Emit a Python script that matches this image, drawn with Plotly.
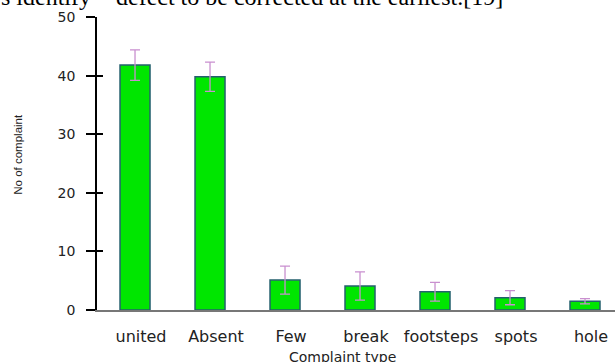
import plotly.graph_objects as go

# Complaint counts by type, with their error margins
complaint_types = ["united", "Absent", "Few", "break", "footsteps", "spots", "hole"]
mean_counts = [41.8, 39.8, 5.1, 4.1, 3.1, 2.1, 1.5]
error_margin = [2.6, 2.5, 2.4, 2.4, 1.6, 1.2, 0.45]
y_ticks = [0, 10, 20, 30, 40, 50]

W, H = 615, 362
M_L, M_R, M_T, M_B = 97, 0, 17, 52
plot_w = W - M_L - M_R

SANS = "DejaVu Sans, Verdana, sans-serif"
SERIF = "Liberation Serif, Times New Roman, serif"

fig = go.Figure()

fig.add_trace(go.Bar(
    x=complaint_types,
    y=mean_counts,
    width=0.4,
    marker=dict(color="#00e600", line=dict(color="#24606e", width=1.5)),
    error_y=dict(type="data", array=error_margin, visible=True,
                 color="#c98fcf", thickness=1.3, width=5),
    showlegend=False,
    hoverinfo="x+y",
))

# invisible companion trace so the overlay axis (inner tick half) is drawn
fig.add_trace(go.Scatter(
    x=complaint_types[:1], y=[0], yaxis="y2", mode="markers",
    marker=dict(opacity=0), showlegend=False, hoverinfo="skip",
))


def px_x(px):
    return (px - M_L) / plot_w


fig.update_layout(
    width=W, height=H,
    margin=dict(l=M_L, r=M_R, t=M_T, b=M_B),
    paper_bgcolor="white",
    plot_bgcolor="white",
    font=dict(family=SANS, color="#222222"),
    xaxis=dict(
        type="category",
        range=[-0.507, 6.4],
        showgrid=False,
        zeroline=False,
        showline=True,
        linecolor="#777777",
        linewidth=1.5,
        ticks="",
        tickfont=dict(family=SANS, size=16, color="#222222"),
        ticklabelstandoff=11,
        ticklabelshift=6,
    ),
    yaxis=dict(
        range=[0, 50],
        tickvals=y_ticks,
        showgrid=False,
        zeroline=False,
        showline=True,
        linecolor="black",
        linewidth=1.5,
        ticks="outside",
        ticklen=9,
        tickwidth=1.5,
        tickcolor="black",
        tickfont=dict(family=SANS, size=14, color="#222222"),
        ticklabelstandoff=8,
    ),
    yaxis2=dict(
        range=[0, 50],
        overlaying="y",
        tickvals=y_ticks,
        showgrid=False,
        zeroline=False,
        showline=False,
        ticks="inside",
        ticklen=6,
        tickwidth=1.5,
        tickcolor="black",
        showticklabels=False,
    ),
    annotations=[
        # tail of the running text line above the figure (justified spacing)
        dict(
            text="s identify",
            xref="paper", yref="paper",
            x=px_x(-1), y=1, xanchor="left", yanchor="bottom",
            yshift=5, showarrow=False,
            font=dict(family=SERIF, size=24, color="black"),
        ),
        dict(
            text="defect to be corrected at the earliest.[19]",
            xref="paper", yref="paper",
            x=px_x(114), y=1, xanchor="left", yanchor="bottom",
            yshift=5, showarrow=False,
            font=dict(family=SERIF, size=24, color="black"),
        ),
        dict(
            text="No of complaint",
            xref="paper", yref="paper",
            x=px_x(18), y=0.53,
            xanchor="center", yanchor="middle",
            textangle=-90, showarrow=False,
            font=dict(family="Liberation Sans Narrow, Arial Narrow, Liberation Sans, sans-serif",
                      size=11.5, color="#222222"),
        ),
        dict(
            text="Complaint type",
            xref="paper", yref="paper",
            x=px_x(342), y=0,
            xanchor="center", yanchor="middle",
            yshift=-(357 - (H - M_B)),
            showarrow=False,
            font=dict(family=SANS, size=14, color="#222222"),
        ),
    ],
)

fig.write_html("out.html")
